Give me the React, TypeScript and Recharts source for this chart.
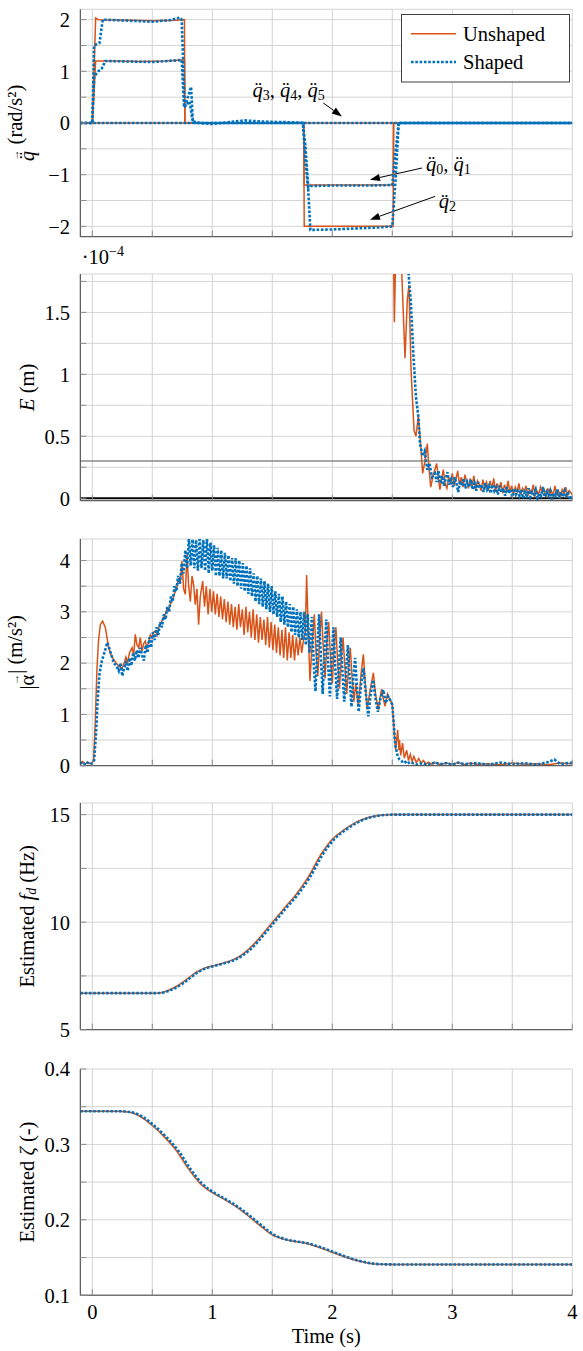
import React from 'react';
import { LineChart, Line, XAxis, YAxis, CartesianGrid, ReferenceLine, ReferenceDot, Legend } from 'recharts';

type Pt = [number, number];

const W = 583;
const PLOT_LEFT = 80.3;
const PLOT_RIGHT = 572.3;
const FONT = "'Liberation Serif', 'Times New Roman', serif";
const FS = 20.5;
const ORANGE = '#D95319';
const BLUE = '#0072BD';
const GRID = '#d4d4d4';
const FRAME = '#404040';
const TICKMARK = '#8c8c8c';
const DOTS = '2.6 1.7';
const txt = { fontFamily: FONT, fontSize: FS };

const timeDomain: [number, number] = [-0.1, 4];
const timeTicks = [0, 0.5, 1, 1.5, 2, 2.5, 3, 3.5, 4];
const timeLabels = [0, 1, 2, 3, 4];

// panel 1: joint accelerations
const qTicks = [-2, -1.5, -1, -0.5, 0, 0.5, 1, 1.5, 2];
const qLabels = [-2, -1, 0, 1, 2];
const q01Unshaped: Pt[] = [[-0.1, 0], [0, 0], [0.028, 1.2], [0.2, 1.2], [0.4, 1.19], [0.6, 1.2], [0.74, 1.22], [0.768, 1.22], [0.772, 0], [1.762, 0], [1.766, -1.2], [2.0, -1.2], [2.3, -1.2], [2.507, -1.2], [2.511, 0], [4, 0]];
const q2Unshaped: Pt[] = [[-0.1, 0], [0, 0], [0.028, 2.03], [0.05, 2.0], [0.3, 1.99], [0.5, 1.98], [0.7, 1.99], [0.768, 2.0], [0.772, 0], [1.762, 0], [1.766, -2.0], [2.0, -2.0], [2.3, -2.0], [2.507, -2.0], [2.511, 0], [4, 0]];
const q345Unshaped: Pt[] = [[-0.1, 0], [4, 0]];
const q01Shaped: Pt[] = [[-0.1, 0], [0, 0], [0.016, 0.9], [0.05, 1.0], [0.078, 1.05], [0.109, 1.2], [0.3, 1.19], [0.5, 1.18], [0.7, 1.21], [0.745, 1.22], [0.765, 0.3], [0.81, 0.42], [0.838, 0.02], [0.86, 0], [1.755, 0], [1.776, -0.45], [1.8, -1.25], [1.82, -1.22], [2.0, -1.21], [2.3, -1.21], [2.5, -1.2], [2.525, -0.6], [2.553, 0], [4, 0]];
const q2Shaped: Pt[] = [[-0.1, 0], [0, 0], [0.015, 1.5], [0.06, 1.55], [0.087, 2.0], [0.3, 1.98], [0.5, 1.96], [0.65, 1.99], [0.73, 2.04], [0.745, 2.0], [0.77, 0.3], [0.823, 0.7], [0.838, 0.03], [0.9, 0], [0.99, -0.02], [1.08, 0], [1.27, 0.05], [1.4, 0.03], [1.55, 0.02], [1.7, 0.01], [1.755, 0], [1.776, -0.75], [1.8, -1.3], [1.817, -2.07], [2.0, -2.06], [2.2, -2.04], [2.4, -2.02], [2.5, -2.0], [2.53, -1.0], [2.553, 0], [4, 0]];
const q345Shaped: Pt[] = [[-0.1, 0], [4, 0]];

// panel 2: end effector error, in 1e-4 m
const eTicks = [0, 0.25, 0.5, 0.75, 1, 1.25, 1.5, 1.75];
const eLabels = [0, 0.5, 1, 1.5];
const eLimit = 0.3;
const eUnshaped: Pt[] = [[2.45, 4], [2.508, 2.2], [2.517, 1.42], [2.531, 2.1], [2.56, 2.3], [2.606, 1.13], [2.625, 1.6], [2.639, 1.72], [2.656, 1.04], [2.681, 0.55], [2.697, 0.5], [2.717, 0.66], [2.735, 0.45], [2.753, 0.2], [2.772, 0.3], [2.792, 0.44], [2.805, 0.25], [2.82, 0.09], [2.845, 0.2], [2.87, 0.28], [2.885, 0.15], [2.897, 0.07], [2.912, 0.16], [2.925, 0.23], [2.94, 0.12], [2.955, 0.08], [2.97, 0.17], [2.985, 0.12], [3.0, 0.2], [3.015, 0.1], [3.03, 0.15], [3.045, 0.22], [3.06, 0.11], [3.075, 0.17], [3.09, 0.09], [3.105, 0.19], [3.12, 0.13], [3.135, 0.08], [3.15, 0.16], [3.165, 0.1], [3.18, 0.18], [3.195, 0.07], [3.21, 0.14], [3.225, 0.11], [3.24, 0.06], [3.255, 0.15], [3.27, 0.09], [3.285, 0.13], [3.3, 0.06], [3.315, 0.14], [3.33, 0.08], [3.345, 0.16], [3.36, 0.05], [3.375, 0.12], [3.39, 0.07], [3.405, 0.13], [3.42, 0.04], [3.435, 0.11], [3.45, 0.06], [3.465, 0.14], [3.48, 0.05], [3.495, 0.1], [3.51, 0.03], [3.525, 0.09], [3.54, 0.05], [3.555, 0.12], [3.57, 0.03], [3.585, 0.08], [3.6, 0.05], [3.615, 0.1], [3.63, 0.02], [3.645, 0.07], [3.66, 0.04], [3.675, 0.11], [3.69, 0.02], [3.705, 0.06], [3.72, 0.03], [3.735, 0.09], [3.75, 0.04], [3.765, 0.07], [3.78, 0.01], [3.795, 0.08], [3.81, 0.03], [3.825, 0.06], [3.84, 0.02], [3.855, 0.1], [3.87, 0.03], [3.885, 0.06], [3.9, 0.01], [3.915, 0.07], [3.93, 0.03], [3.945, 0.09], [3.96, 0.02], [3.975, 0.06], [4.0, 0.03]];
const eShaped: Pt[] = [[2.6, 3], [2.633, 1.85], [2.655, 1.57], [2.675, 1.17], [2.697, 0.82], [2.717, 0.66], [2.731, 0.44], [2.753, 0.34], [2.77, 0.38], [2.792, 0.23], [2.81, 0.28], [2.83, 0.17], [2.856, 0.2], [2.87, 0.13], [2.885, 0.22], [2.9, 0.12], [2.915, 0.18], [2.93, 0.1], [2.945, 0.16], [2.96, 0.21], [2.975, 0.11], [2.99, 0.15], [3.005, 0.09], [3.02, 0.17], [3.035, 0.12], [3.05, 0.05], [3.065, 0.14], [3.08, 0.1], [3.095, 0.16], [3.11, 0.08], [3.125, 0.13], [3.14, 0.09], [3.155, 0.15], [3.17, 0.07], [3.185, 0.12], [3.2, 0.06], [3.215, 0.13], [3.23, 0.08], [3.245, 0.11], [3.26, 0.05], [3.275, 0.12], [3.29, 0.07], [3.305, 0.1], [3.32, 0.04], [3.335, 0.11], [3.35, 0.06], [3.365, 0.09], [3.38, 0.03], [3.395, 0.1], [3.41, 0.05], [3.425, 0.08], [3.44, 0.02], [3.455, 0.09], [3.47, 0.04], [3.485, 0.07], [3.5, 0.01], [3.515, 0.08], [3.53, 0.03], [3.545, 0.06], [3.56, 0.02], [3.575, 0.07], [3.59, 0.0], [3.605, 0.05], [3.62, 0.02], [3.635, 0.08], [3.65, 0.01], [3.665, 0.05], [3.68, 0.03], [3.695, 0.07], [3.71, 0.0], [3.725, 0.04], [3.74, 0.02], [3.755, 0.09], [3.77, 0.01], [3.785, 0.05], [3.8, 0.02], [3.815, 0.06], [3.83, -0.01], [3.845, 0.04], [3.86, 0.02], [3.875, 0.07], [3.89, 0.0], [3.905, 0.05], [3.92, 0.01], [3.935, 0.06], [3.95, 0.02], [3.965, 0.04], [3.98, -0.01], [4.0, 0.03]];

// panel 3: end effector acceleration magnitude
const aTicks = [0, 0.5, 1, 1.5, 2, 2.5, 3, 3.5, 4];
const aLabels = [0, 1, 2, 3, 4];
const aUnshaped: Pt[] = [[-0.1, 0.05], [-0.08, 0.08], [-0.06, 0.03], [-0.04, 0.07], [-0.02, 0.04], [0.0, 0.06], [0.011, 0.1], [0.025, 0.9], [0.039, 1.9], [0.052, 2.45], [0.067, 2.75], [0.086, 2.82], [0.109, 2.69], [0.136, 2.3], [0.158, 2.15], [0.178, 2.07], [0.2, 2.0], [0.22, 1.94], [0.247, 1.9], [0.265, 2.0], [0.28, 2.12], [0.295, 2.02], [0.31, 2.2], [0.331, 2.3], [0.345, 2.15], [0.358, 2.56], [0.372, 2.36], [0.386, 2.3], [0.4, 2.5], [0.414, 2.23], [0.428, 2.38], [0.442, 2.43], [0.455, 2.3], [0.469, 2.4], [0.483, 2.55], [0.497, 2.49], [0.51, 2.6], [0.525, 2.62], [0.54, 2.55], [0.553, 2.69], [0.567, 2.75], [0.58, 2.82], [0.595, 2.9], [0.608, 2.95], [0.622, 3.05], [0.636, 3.02], [0.65, 3.15], [0.664, 3.2], [0.678, 3.3], [0.692, 3.4], [0.706, 3.5], [0.72, 3.66], [0.733, 3.55], [0.747, 3.99], [0.761, 3.45], [0.775, 3.34], [0.789, 4.12], [0.803, 3.5], [0.817, 3.2], [0.831, 3.7], [0.844, 3.53], [0.858, 3.14], [0.872, 3.45], [0.886, 2.75], [0.9, 3.3], [0.92, 3.6], [0.935, 3.1], [0.95, 3.5], [0.965, 2.95], [0.98, 3.45], [0.995, 3.0], [1.01, 3.4], [1.025, 2.95], [1.04, 3.35], [1.055, 2.9], [1.07, 3.3], [1.085, 2.85], [1.1, 3.25], [1.115, 2.8], [1.13, 3.2], [1.145, 2.75], [1.16, 3.15], [1.175, 2.7], [1.19, 3.1], [1.205, 2.65], [1.22, 3.15], [1.235, 2.7], [1.25, 3.05], [1.265, 2.55], [1.28, 3.1], [1.295, 2.6], [1.31, 3.0], [1.325, 2.5], [1.34, 3.05], [1.355, 2.45], [1.37, 2.95], [1.385, 2.4], [1.4, 2.9], [1.415, 2.45], [1.43, 2.85], [1.445, 2.35], [1.46, 2.9], [1.475, 2.3], [1.49, 2.8], [1.505, 2.25], [1.52, 2.75], [1.535, 2.2], [1.55, 2.7], [1.565, 2.15], [1.58, 2.65], [1.595, 2.1], [1.61, 2.7], [1.625, 2.05], [1.64, 2.6], [1.655, 2.1], [1.67, 2.55], [1.685, 2.05], [1.7, 2.5], [1.715, 2.15], [1.73, 2.5], [1.745, 2.2], [1.76, 2.45], [1.775, 2.6], [1.786, 3.72], [1.8, 2.6], [1.814, 1.65], [1.83, 2.3], [1.85, 2.95], [1.865, 2.2], [1.88, 1.75], [1.895, 2.5], [1.91, 3.0], [1.925, 2.3], [1.94, 1.7], [1.955, 2.4], [1.97, 2.8], [1.985, 2.1], [2.0, 1.6], [2.015, 2.3], [2.03, 2.7], [2.045, 2.0], [2.06, 1.5], [2.075, 2.1], [2.09, 2.5], [2.105, 1.9], [2.12, 1.4], [2.135, 1.9], [2.15, 2.3], [2.165, 1.7], [2.18, 1.25], [2.195, 1.6], [2.217, 1.16], [2.24, 1.8], [2.259, 2.17], [2.275, 1.6], [2.29, 1.1], [2.31, 1.4], [2.325, 1.6], [2.342, 1.81], [2.36, 1.4], [2.384, 1.09], [2.4, 1.35], [2.41, 1.49], [2.425, 1.3], [2.44, 1.16], [2.46, 1.4], [2.475, 1.32], [2.49, 1.25], [2.5, 1.18], [2.51, 0.85], [2.52, 0.5], [2.528, 0.31], [2.545, 0.7], [2.555, 0.3], [2.56, 0.5], [2.57, 0.2], [2.585, 0.44], [2.6, 0.15], [2.62, 0.3], [2.635, 0.1], [2.65, 0.22], [2.665, 0.08], [2.68, 0.18], [2.7, 0.06], [2.72, 0.14], [2.74, 0.05], [2.76, 0.1], [2.78, 0.03], [2.8, 0.07], [2.83, 0.03], [2.87, 0.06], [2.9, 0.02], [2.95, 0.05], [3.0, 0.03], [3.05, 0.06], [3.1, 0.02], [3.15, 0.05], [3.2, 0.03], [3.3, 0.04], [3.4, 0.02], [3.5, 0.05], [3.6, 0.03], [3.7, 0.04], [3.8, 0.02], [3.9, 0.05], [4.0, 0.04]];
const aShaped: Pt[] = [[-0.1, 0.04], [-0.08, 0.07], [-0.06, 0.02], [-0.04, 0.06], [-0.02, 0.03], [0.0, 0.05], [0.015, 0.1], [0.03, 0.6], [0.045, 1.3], [0.06, 1.8], [0.08, 2.05], [0.1, 2.2], [0.125, 2.4], [0.14, 2.3], [0.16, 2.15], [0.18, 2.0], [0.2, 1.95], [0.22, 1.85], [0.235, 2.0], [0.25, 1.75], [0.265, 1.9], [0.28, 2.0], [0.295, 1.85], [0.31, 2.1], [0.325, 1.95], [0.34, 2.2], [0.355, 2.05], [0.37, 2.25], [0.385, 2.1], [0.4, 2.3], [0.415, 2.15], [0.43, 2.05], [0.445, 2.35], [0.46, 2.2], [0.475, 2.5], [0.49, 2.3], [0.505, 2.6], [0.52, 2.45], [0.535, 2.7], [0.55, 2.55], [0.565, 2.8], [0.58, 2.7], [0.595, 2.95], [0.61, 2.85], [0.625, 3.1], [0.64, 3.0], [0.655, 3.3], [0.67, 3.2], [0.685, 3.5], [0.7, 3.4], [0.715, 3.7], [0.73, 3.55], [0.745, 3.95], [0.76, 3.75], [0.775, 4.2], [0.79, 3.85], [0.805, 4.45], [0.82, 3.9], [0.835, 4.45], [0.85, 3.85], [0.865, 4.4], [0.88, 3.8], [0.895, 4.45], [0.91, 3.85], [0.925, 4.4], [0.94, 3.8], [0.955, 4.45], [0.97, 3.75], [0.985, 4.35], [1.0, 3.8], [1.015, 4.3], [1.03, 3.7], [1.045, 4.25], [1.06, 3.7], [1.075, 4.2], [1.09, 3.65], [1.105, 4.15], [1.12, 3.65], [1.135, 4.1], [1.15, 3.6], [1.165, 4.05], [1.18, 3.55], [1.195, 4.05], [1.21, 3.5], [1.225, 4.0], [1.24, 3.45], [1.255, 3.95], [1.27, 3.4], [1.285, 3.9], [1.3, 3.35], [1.315, 3.85], [1.33, 3.3], [1.345, 3.75], [1.36, 3.2], [1.375, 3.7], [1.39, 3.15], [1.405, 3.65], [1.42, 3.1], [1.435, 3.6], [1.45, 3.05], [1.465, 3.55], [1.48, 3.0], [1.495, 3.5], [1.51, 2.95], [1.525, 3.4], [1.54, 2.9], [1.555, 3.35], [1.57, 2.8], [1.585, 3.3], [1.6, 2.75], [1.615, 3.2], [1.63, 2.7], [1.645, 3.15], [1.66, 2.6], [1.675, 3.1], [1.69, 2.55], [1.705, 3.05], [1.72, 2.5], [1.735, 3.0], [1.75, 2.45], [1.765, 3.0], [1.78, 2.35], [1.795, 2.95], [1.81, 2.2], [1.83, 2.9], [1.845, 2.0], [1.86, 1.45], [1.875, 2.3], [1.89, 2.95], [1.905, 2.1], [1.92, 1.4], [1.935, 2.2], [1.95, 2.85], [1.965, 2.0], [1.98, 1.35], [1.995, 2.1], [2.01, 2.7], [2.025, 1.9], [2.04, 1.3], [2.055, 1.95], [2.07, 2.5], [2.085, 1.8], [2.1, 1.25], [2.115, 1.85], [2.13, 2.35], [2.145, 1.7], [2.16, 1.15], [2.175, 1.7], [2.19, 2.1], [2.205, 1.55], [2.22, 1.05], [2.24, 1.6], [2.26, 1.9], [2.28, 1.4], [2.3, 0.96], [2.32, 1.4], [2.34, 1.67], [2.36, 1.3], [2.38, 1.05], [2.4, 1.3], [2.425, 1.48], [2.445, 1.22], [2.465, 1.35], [2.48, 1.29], [2.5, 1.19], [2.514, 0.77], [2.525, 0.4], [2.545, 0.18], [2.56, 0.12], [2.58, 0.08], [2.6, 0.1], [2.62, 0.04], [2.65, 0.07], [2.7, 0.02], [2.75, 0.05], [2.8, 0.02], [2.85, 0.06], [2.9, 0.03], [2.95, 0.05], [3.0, 0.02], [3.05, 0.06], [3.1, 0.03], [3.2, 0.05], [3.3, 0.02], [3.4, 0.06], [3.5, 0.03], [3.6, 0.05], [3.7, 0.02], [3.8, 0.07], [3.85, 0.12], [3.9, 0.03], [4.0, 0.06]];

// panel 4: estimated damped frequency
const fTicks = [5, 7.5, 10, 12.5, 15];
const fLabels = [5, 10, 15];
const fUnshaped: Pt[] = [[-0.1, 6.7], [0.5, 6.7], [0.56, 6.71], [0.62, 6.8], [0.68, 6.95], [0.74, 7.15], [0.8, 7.4], [0.86, 7.65], [0.92, 7.83], [1.0, 7.96], [1.08, 8.08], [1.16, 8.22], [1.24, 8.46], [1.3, 8.72], [1.36, 9.06], [1.42, 9.45], [1.5, 9.98], [1.6, 10.65], [1.7, 11.3], [1.8, 12.1], [1.9, 13.1], [2.0, 13.85], [2.1, 14.3], [2.2, 14.65], [2.3, 14.87], [2.4, 14.97], [2.5, 15.0], [4.0, 15.0]];
const fShaped: Pt[] = [[-0.1, 6.7], [0.5, 6.7], [0.575, 6.71], [0.635, 6.8], [0.695, 6.95], [0.755, 7.15], [0.815, 7.4], [0.875, 7.65], [0.935, 7.83], [1.015, 7.96], [1.095, 8.08], [1.175, 8.22], [1.255, 8.46], [1.315, 8.72], [1.375, 9.06], [1.435, 9.45], [1.515, 9.98], [1.615, 10.65], [1.715, 11.3], [1.815, 12.1], [1.915, 13.1], [2.015, 13.85], [2.115, 14.3], [2.215, 14.65], [2.315, 14.87], [2.415, 14.97], [2.515, 15.0], [4.0, 15.0]];

// panel 5: estimated damping ratio
const zTicks = [0.1, 0.15, 0.2, 0.25, 0.3, 0.35, 0.4];
const zLabels = [0.1, 0.2, 0.3, 0.4];
const zUnshaped: Pt[] = [[-0.1, 0.344], [0.2, 0.344], [0.3, 0.343], [0.4, 0.337], [0.5, 0.325], [0.6, 0.31], [0.7, 0.292], [0.8, 0.268], [0.9, 0.248], [1.0, 0.236], [1.1, 0.227], [1.2, 0.217], [1.3, 0.205], [1.4, 0.192], [1.5, 0.18], [1.6, 0.174], [1.7, 0.171], [1.8, 0.168], [1.9, 0.163], [2.0, 0.157], [2.1, 0.151], [2.2, 0.146], [2.3, 0.1425], [2.4, 0.141], [2.5, 0.1408], [4.0, 0.1408]];
const zShaped: Pt[] = [[-0.1, 0.344], [0.215, 0.344], [0.315, 0.343], [0.415, 0.337], [0.515, 0.325], [0.615, 0.31], [0.715, 0.292], [0.815, 0.268], [0.915, 0.248], [1.015, 0.236], [1.115, 0.227], [1.215, 0.217], [1.315, 0.205], [1.415, 0.192], [1.515, 0.18], [1.615, 0.174], [1.715, 0.171], [1.815, 0.168], [1.915, 0.163], [2.015, 0.157], [2.115, 0.151], [2.215, 0.146], [2.315, 0.1425], [2.415, 0.141], [2.515, 0.1408], [4.0, 0.1408]];

// annotations in panel 1
const qNotes = [
  { t: 1.335, v: 0.645, subs: ['3', '4', '5'] },
  { t: 2.78, v: -0.79, subs: ['0', '1'] },
  { t: 2.888, v: -1.517, subs: ['2'] },
];
const qArrows: { from: [number, number]; to: [number, number] }[] = [
  { from: [1.925, 0.387], to: [2.08, 0.128] },
  { from: [2.748, -0.871], to: [2.314, -1.097] },
  { from: [2.857, -1.42], to: [2.314, -1.871] },
];

const legendItems = [
  { name: 'Unshaped', color: ORANGE, dash: undefined as string | undefined, width: 1.5 },
  { name: 'Shaped', color: BLUE, dash: DOTS, width: 2.6 },
];

const toRows = (pts: Pt[]) => pts.map(([t, v]) => ({ t, v }));
const fmt = (v: number) => String(v).replace('-', '\u2212');

const arrowShape = (props: any) => {
  const { x1, y1, x2, y2 } = props;
  const ang = Math.atan2(y2 - y1, x2 - x1);
  const L = 10;
  const hw = 3.6;
  const bx = x2 - L * Math.cos(ang);
  const by = y2 - L * Math.sin(ang);
  const px = -Math.sin(ang) * hw;
  const py = Math.cos(ang) * hw;
  return (
    <g>
      <line x1={x1} y1={y1} x2={bx} y2={by} stroke="#000" strokeWidth={1} />
      <polygon points={`${x2},${y2} ${bx + px},${by + py} ${bx - px},${by - py}`} fill="#000" />
    </g>
  );
};

// small arrow drawn over the previous glyph (vector accent)
function VecAccent({ back, after }: { back: number; after: number }) {
  return (
    <>
      <tspan dx={-back} dy={-12.5} style={{ fontFamily: FONT, fontSize: 11 }}>{'\u2192'}</tspan>
      <tspan dx={after} dy={12.5}>{''}</tspan>
    </>
  );
}

function QNote({ x, y, subs }: { x: number; y: number; subs: string[] }) {
  const parts: React.ReactNode[] = [];
  subs.forEach((s, i) => {
    parts.push(<tspan key={'q' + i} fontStyle="italic">{'q\u0308'}</tspan>);
    parts.push(<tspan key={'s' + i} style={{ fontSize: 14 }} dy={5}>{s}</tspan>);
    if (i < subs.length - 1) parts.push(<tspan key={'c' + i} dy={-5}>{', '}</tspan>);
  });
  return (
    <text x={x} y={y} dominantBaseline="central" style={txt} fill="#000">
      {parts}
    </text>
  );
}

function LegendBox() {
  return (
    <svg width={169} height={69} style={{ display: 'block' }}>
      <rect x={0.5} y={0.5} width={168} height={67.5} fill="#fff" stroke={FRAME} strokeWidth={1} />
      {legendItems.map((it, i) => (
        <g key={it.name}>
          <line x1={10} x2={55} y1={19.7 + i * 28.3} y2={19.7 + i * 28.3} stroke={it.color} strokeWidth={it.width} strokeDasharray={it.dash} />
          <text x={62} y={19.7 + i * 28.3} dominantBaseline="central" style={txt} fill="#000">{it.name}</text>
        </g>
      ))}
    </svg>
  );
}

interface PanelProps {
  top: number;
  bottom: number;
  domain: [number, number];
  ticks: number[];
  labels: number[];
  unshaped: Pt[][];
  shaped: Pt[][];
  curve?: 'linear' | 'monotone';
  title: React.ReactNode;
  last?: boolean;
  children?: React.ReactNode;
}

function Panel(p: PanelProps) {
  const mt = Math.min(30, p.top);
  const plotH = p.bottom - p.top;
  const xh = p.last ? 56 : 20;
  const height = mt + plotH + xh;
  const pTop = mt;
  const pBot = mt + plotH;
  const midY = mt + plotH / 2;
  const curve = p.curve ?? 'linear';
  return (
    <div style={{ position: 'absolute', left: 0, top: p.top - mt, width: W, height }}>
      <LineChart width={W} height={height} margin={{ top: mt, right: W - PLOT_RIGHT, bottom: 0, left: 0 }}>
        <CartesianGrid stroke={GRID} strokeWidth={1} />
        <XAxis
          type="number"
          dataKey="t"
          domain={timeDomain}
          ticks={timeTicks}
          allowDataOverflow
          height={xh}
          axisLine={{ stroke: FRAME }}
          tickLine={false}
          tickSize={6}
          tickMargin={3.5}
          tick={(tp: any) => (
            <g>
              <line x1={tp.x} x2={tp.x} y1={pBot} y2={pBot - 6} stroke={TICKMARK} />
              {p.last && timeLabels.includes(tp.payload.value) && (
                <text x={tp.x} y={tp.y} dy="0.71em" textAnchor="middle" style={txt} fill="#000">
                  {fmt(tp.payload.value)}
                </text>
              )}
            </g>
          )}
          label={
            p.last
              ? {
                  content: () => (
                    <text x={(PLOT_LEFT + PLOT_RIGHT) / 2} y={pBot + 41.2} textAnchor="middle" dominantBaseline="central" style={txt} fill="#000">
                      Time (s)
                    </text>
                  ),
                }
              : undefined
          }
        />
        <XAxis
          xAxisId="top"
          orientation="top"
          type="number"
          domain={timeDomain}
          ticks={timeTicks}
          allowDataOverflow
          height={0}
          axisLine={{ stroke: FRAME }}
          tickLine={false}
          tick={(tp: any) => <line x1={tp.x} x2={tp.x} y1={pTop} y2={pTop + 6} stroke={TICKMARK} />}
        />
        <YAxis
          type="number"
          domain={p.domain}
          ticks={p.ticks}
          allowDataOverflow
          width={PLOT_LEFT}
          axisLine={{ stroke: FRAME }}
          tickLine={false}
          tickSize={6}
          tickMargin={4.3}
          tick={(tp: any) => (
            <g>
              <line x1={PLOT_LEFT} x2={PLOT_LEFT + 6} y1={tp.y} y2={tp.y} stroke={TICKMARK} />
              {p.labels.includes(tp.payload.value) && (
                <text x={tp.x} y={tp.y} dy="0.36em" textAnchor="end" style={txt} fill="#000">
                  {fmt(tp.payload.value)}
                </text>
              )}
            </g>
          )}
          label={{
            content: () => (
              <text
                x={27}
                y={midY}
                transform={`rotate(-90 27 ${midY})`}
                textAnchor="middle"
                dominantBaseline="central"
                style={txt}
                fill="#000"
              >
                {p.title}
              </text>
            ),
          }}
        />
        <YAxis
          yAxisId="right"
          orientation="right"
          type="number"
          domain={p.domain}
          ticks={p.ticks}
          allowDataOverflow
          width={0}
          axisLine={{ stroke: FRAME }}
          tickLine={false}
          tick={(tp: any) => <line x1={PLOT_RIGHT} x2={PLOT_RIGHT - 6} y1={tp.y} y2={tp.y} stroke={TICKMARK} />}
        />
        {p.children}
        {p.unshaped.map((pts, i) => (
          <Line key={'u' + i} data={toRows(pts)} dataKey="v" type={curve} dot={false} activeDot={false} stroke={ORANGE} strokeWidth={1.5} isAnimationActive={false} />
        ))}
        {p.shaped.map((pts, i) => (
          <Line key={'s' + i} data={toRows(pts)} dataKey="v" type={curve} dot={false} activeDot={false} stroke={BLUE} strokeWidth={2.6} strokeDasharray={DOTS} isAnimationActive={false} />
        ))}
      </LineChart>
    </div>
  );
}

export default function App() {
  return (
    <div style={{ position: 'absolute', left: 0, top: 0, width: W, height: 1351, background: '#fff', fontFamily: FONT }}>
      <Panel
        top={9.3}
        bottom={236.7}
        domain={[-2.2, 2.2]}
        ticks={qTicks}
        labels={qLabels}
        unshaped={[q345Unshaped, q01Unshaped, q2Unshaped]}
        shaped={[q345Shaped, q01Shaped, q2Shaped]}
        title={
          <>
            <tspan fontStyle="italic">{'q\u0308'}</tspan>
            <VecAccent back={9.5} after={-1.5} />
            <tspan>{' (rad/s\u00B2)'}</tspan>
          </>
        }
      >
        {qArrows.map((a, i) => (
          <ReferenceLine
            key={'a' + i}
            segment={[{ x: a.from[0], y: a.from[1] }, { x: a.to[0], y: a.to[1] }]}
            stroke="#000"
            shape={arrowShape}
          />
        ))}
        {qNotes.map((n, i) => (
          <ReferenceDot
            key={'n' + i}
            x={n.t}
            y={n.v}
            r={0}
            fill="none"
            stroke="none"
            label={{ content: (lp: any) => <QNote x={lp.viewBox.x} y={lp.viewBox.y} subs={n.subs} /> }}
          />
        ))}
        <Legend
          layout="vertical"
          align="center"
          verticalAlign="middle"
          content={() => <LegendBox />}
          wrapperStyle={{ left: 401.3, top: 14.3, width: 169, height: 69 }}
        />
      </Panel>
      <Panel
        top={274}
        bottom={500.7}
        domain={[-0.02, 1.81]}
        ticks={eTicks}
        labels={eLabels}
        unshaped={[eUnshaped]}
        shaped={[eShaped]}
        title={
          <>
            <tspan fontStyle="italic">E</tspan>
            <tspan>{' (m)'}</tspan>
          </>
        }
      >
        <ReferenceLine y={eLimit} stroke="#8a8a8a" strokeWidth={1.4} />
        <ReferenceLine y={0} stroke="#000" strokeWidth={2} />
        <ReferenceDot
          x={-0.1}
          y={1.81}
          r={0}
          fill="none"
          stroke="none"
          ifOverflow="visible"
          label={{
            content: (lp: any) => (
              <text x={lp.viewBox.x + 1.5} y={lp.viewBox.y - 10} style={txt} fill="#000">
                <tspan>{'\u00B710'}</tspan>
                <tspan style={{ fontSize: 14 }} dy={-8}>{'\u22124'}</tspan>
              </text>
            ),
          }}
        />
      </Panel>
      <Panel
        top={539.3}
        bottom={766}
        domain={[0, 4.42]}
        ticks={aTicks}
        labels={aLabels}
        unshaped={[aUnshaped]}
        shaped={[aShaped]}
        title={
          <>
            <tspan>{'|\u03B1'}</tspan>
            <VecAccent back={10} after={-1} />
            <tspan>{'| (m/s\u00B2)'}</tspan>
          </>
        }
      />
      <Panel
        top={803.3}
        bottom={1030}
        domain={[5, 15.54]}
        ticks={fTicks}
        labels={fLabels}
        unshaped={[fUnshaped]}
        shaped={[fShaped]}
        curve="monotone"
        title={
          <>
            <tspan>{'Estimated '}</tspan>
            <tspan fontStyle="italic">f</tspan>
            <tspan fontStyle="italic" style={{ fontSize: 14 }} dy={4}>d</tspan>
            <tspan dy={-4}>{' (Hz)'}</tspan>
          </>
        }
      />
      <Panel
        top={1069.3}
        bottom={1295.5}
        domain={[0.1, 0.4]}
        ticks={zTicks}
        labels={zLabels}
        unshaped={[zUnshaped]}
        shaped={[zShaped]}
        curve="monotone"
        last
        title={
          <>
            <tspan>{'Estimated '}</tspan>
            <tspan fontStyle="italic">{'\u03B6'}</tspan>
            <tspan>{' (-)'}</tspan>
          </>
        }
      />
    </div>
  );
}
